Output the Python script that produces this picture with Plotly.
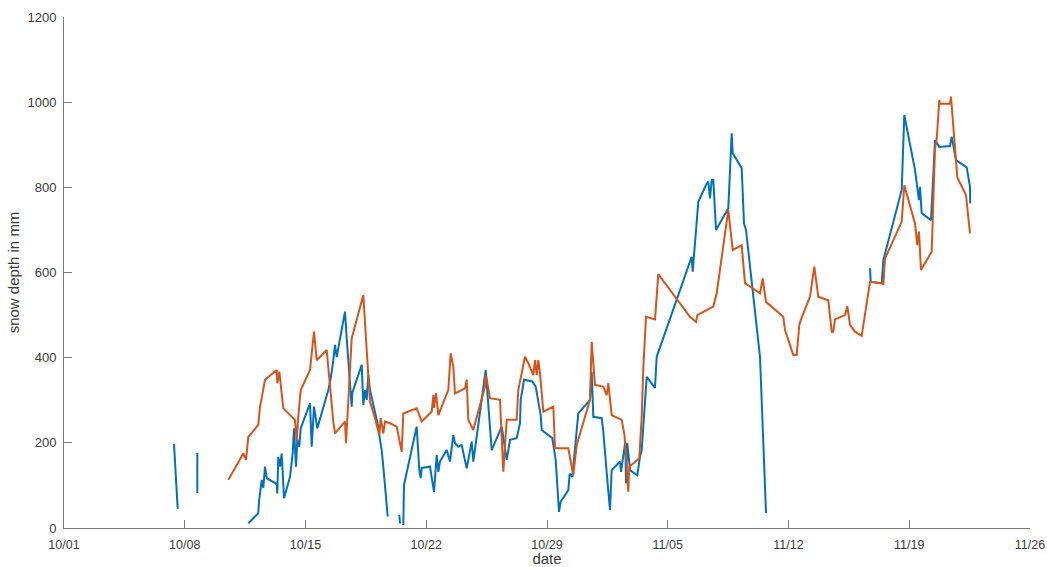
import plotly.graph_objects as go
import pandas as pd

# days since 2019-10-01 (None = gap in record)
blue_days = [6.377, 6.464, 6.591, None,
             7.728, 7.730, None,
             10.684, 10.783, 11.264, 11.304, 11.362, 11.461, 11.554, 11.652, 11.751, 11.942,
             12.330, 12.365, 12.423, 12.522, 12.620, 12.754, 13.101, 13.258, 13.333, 13.449,
             13.525, 13.641, 13.722, 14.261, 14.359, 14.493, 14.684, 15.322, 15.461, 15.612,
             15.710, 15.809, 16.290, 16.388, 16.678, 16.713, 17.258, 17.351, 17.449, 17.548,
             17.641, 17.739, 18.220, 18.319, 18.417, 18.510, 18.707, 18.765, None,
             19.438, 19.478, None,
             19.670, 19.710, 20.446, 20.597, 20.678, 20.736, 21.217, 21.449, 21.606, 21.699,
             21.797, 22.186, 22.377, 22.568, 22.667, 22.858, 23.055, 23.345, 23.635, 23.728,
             24.446, 24.794, 25.374, 25.664, 25.855, 26.243, 26.435, 26.475, 26.667, 27.148,
             27.345, 27.438, 27.635, 27.693, 28.307, 28.504, 28.696, 28.794, 29.235, 29.316,
             29.467, 29.814, 30.493, 30.591, 30.684, 31.171, 31.264, 31.496, 31.652, 31.751,
             32.232, 32.290, 32.539, 32.580, 32.655, 32.812, 33.235, 33.391, 33.490, 33.780,
             34.261, 34.359, 36.388, 36.446, 36.678, 36.771, 37.258, 37.351, 37.449, 37.548,
             37.641, 37.797, 38.510, 38.707, 38.765, 39.287, 39.420, 39.536, 40.348, 40.446,
             40.580, 40.696, None,
             46.725, 46.765, 47.403, 47.496, 48.562, 48.620, 48.713, 49.333, 49.467, 49.565,
             49.623, 49.722, 50.261, 50.493, 50.742, 51.362, 51.461, 51.710, 52.330, 52.522,
             52.530]
blue_depth = [197, 120, 45, None,
              176, 82, None,
              11, 15, 35, 62, 81, 113, 94, 144, 117, 113,
              103, 81, 167, 144, 175, 70, 120, 175, 234, 144,
              207, 191, 234, 293, 191, 285, 234, 324, 351, 394,
              430, 402, 508, 446, 285, 317, 383, 289, 324, 301,
              359, 324, 238, 207, 183, 144, 62, 27, None,
              31, 11, None,
              7, 101, 238, 136, 117, 141, 144, 85, 171, 132,
              156, 183, 156, 218, 199, 191, 195, 140, 203, 156,
              371, 183, 238, 160, 207, 211, 246, 301, 348, 344,
              332, 312, 265, 230, 211, 160, 38, 62, 89, 128,
              120, 269, 301, 367, 261, 258, 226, 113, 42, 136,
              156, 132, 203, 105, 199, 136, 124, 167, 183, 355,
              329, 402, 637, 602, 723, 766, 809, 813, 774, 817,
              817, 700, 751, 927, 880, 845, 715, 700, 402, 293,
              148, 35, None,
              610, 578, 575, 629, 794, 872, 970, 841, 801, 770,
              801, 739, 723, 911, 895, 897, 919, 864, 847, 801,
              762]

orange_days = [9.525, 10.394, 10.551, 10.684, 11.264, 11.362, 11.461, 11.652, 12.330, 12.365,
               12.481, 12.580, 12.713, 13.391, 13.490, 13.565, 13.722, 14.261, 14.493, 14.649,
               15.229, 15.612, 15.710, 16.290, 16.348, 16.678, 17.351, 17.548, 17.739, 18.029,
               18.278, 18.359, 18.510, 18.609, 18.899, 19.287, 19.577, 19.670, 20.446, 20.736,
               21.316, 21.409, 21.450, 21.565, 21.699, 22.278, 22.417, 22.568, 22.667, 23.246,
               23.345, 23.438, 23.635, 23.728, 24.406, 24.464, 24.696, 25.275, 25.467, 25.664,
               26.243, 26.336, 26.725, 26.917, 27.206, 27.304, 27.403, 27.496, 27.594, 27.786,
               28.365, 28.464, 29.235, 29.525, 29.722, 30.493, 30.591, 30.783, 31.264, 31.461,
               31.554, 31.751, 32.330, 32.493, 32.713, 32.771, 33.351, 33.490, 33.583, 33.739,
               34.261, 34.452, 36.290, 36.638, 36.713, 37.641, 37.838, 38.510, 38.765, 39.287,
               39.478, 39.768, 40.348, 40.504, 40.696, 41.699, 41.797, 42.278, 42.475, 42.626,
               42.707, 43.246, 43.496, 43.727, 44.307, 44.504, 44.597, 44.696, 45.275, 45.409,
               45.565, 45.855, 46.243, 46.725, 47.403, 47.496, 47.594, 48.562, 48.713, 49.333,
               49.467, 49.565, 49.681, 50.301, 50.493, 50.591, 50.742, 50.783, 51.362, 51.420,
               51.652, 51.786, 52.290, 52.481, 52.522]
orange_depth = [113, 175, 160, 214, 242, 285, 305, 348, 371, 340,
                367, 336, 281, 254, 203, 254, 324, 371, 461, 394,
                418, 250, 222, 250, 199, 445, 547, 418, 297, 258,
                218, 258, 222, 250, 246, 238, 179, 269, 281, 250,
                273, 312, 282, 317, 265, 324, 410, 379, 316, 328,
                348, 254, 238, 230, 332, 359, 305, 301, 132, 254,
                254, 324, 402, 387, 359, 394, 359, 394, 363, 273,
                285, 187, 187, 124, 195, 301, 437, 336, 332, 312,
                340, 265, 254, 218, 85, 144, 164, 261, 375, 496,
                490, 596, 496, 484, 500, 520, 551, 747, 653, 664,
                575, 567, 551, 586, 531, 496, 465, 406, 406, 477,
                488, 543, 614, 543, 535, 461, 461, 490, 500, 521,
                477, 461, 451, 578, 575, 571, 633, 719, 805, 715,
                664, 696, 606, 649, 892, 911, 1005, 996, 996, 1013,
                899, 823, 782, 719, 692]

start = pd.Timestamp("2019-10-01")
tick_labels = ["10/01", "10/08", "10/15", "10/22", "10/29", "11/05", "11/12", "11/19", "11/26"]
tick_days = [0, 7, 14, 21, 28, 35, 42, 49, 56]
y_ticks = [0, 200, 400, 600, 800, 1000, 1200]


def to_dates(days):
    return [None if d is None else start + pd.Timedelta(days=d) for d in days]


fig = go.Figure()
fig.add_trace(go.Scatter(x=to_dates(blue_days), y=blue_depth, mode="lines",
                         line=dict(color="#0072BD", width=2), connectgaps=False,
                         showlegend=False))
fig.add_trace(go.Scatter(x=to_dates(orange_days), y=orange_depth, mode="lines",
                         line=dict(color="#D95319", width=2), connectgaps=False,
                         showlegend=False))

text_color = "#3a3a3a"
line_color = "#7a7a7a"
fig.update_layout(
    width=1047, height=567,
    margin=dict(l=64, r=17, t=17, b=39),
    paper_bgcolor="white", plot_bgcolor="white",
    font=dict(family="Liberation Sans, Arial, sans-serif", size=13, color=text_color),
    xaxis=dict(
        range=[start, start + pd.Timedelta(days=56)],
        tickvals=to_dates(tick_days), ticktext=tick_labels,
        tickfont=dict(size=12.5),
        ticks="inside", ticklen=8, tickcolor=line_color, tickwidth=1,
        ticklabelstandoff=5,
        showline=True, linecolor=line_color, linewidth=1, mirror=False,
        showgrid=False, zeroline=False,
        title=dict(text="date", font=dict(size=15, color=text_color), standoff=2),
        automargin=False,
    ),
    yaxis=dict(
        range=[0, 1200], tickvals=y_ticks,
        ticks="inside", ticklen=8, tickcolor=line_color, tickwidth=1,
        ticklabelstandoff=4,
        showline=True, linecolor=line_color, linewidth=1, mirror=False,
        showgrid=False, zeroline=False,
        title=dict(text="snow depth in mm", font=dict(size=15, color=text_color), standoff=4),
        automargin=False,
    ),
)

# the figure fills the whole window: drop the page's default body margin and scrollbars
fig.write_html(
    "out.html",
    config={"displayModeBar": False},
    post_script="document.documentElement.style.overflow='hidden';"
                "document.body.style.margin='0';"
                "document.body.style.overflow='hidden';",
)
